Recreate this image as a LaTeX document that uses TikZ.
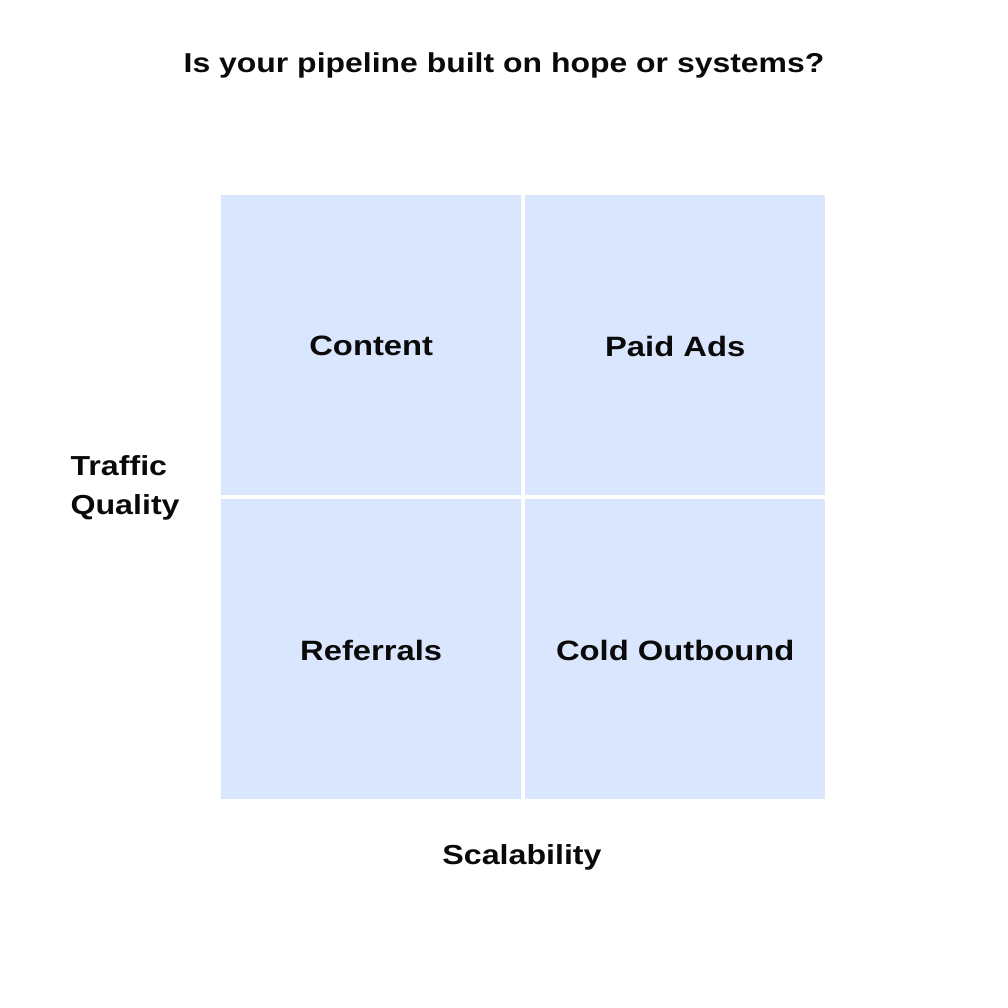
\documentclass[tikz,border=0pt]{standalone}
\usepackage{fontspec}
\setmainfont{Liberation Sans}
\newfontfamily\widesans[FakeStretch=1.17]{Liberation Sans}
\definecolor{quad}{RGB}{218,230,253}
\definecolor{ink}{RGB}{10,10,10}
\begin{document}
\begin{tikzpicture}[x=1pt,y=-1pt,
  quadbox/.style={fill=quad,draw=none,minimum width=300pt,minimum height=300pt,inner sep=0pt,anchor=north west},
  qlabel/.style={font=\widesans\fontsize{28}{32}\selectfont\bfseries,text=ink},
  axlabel/.style={font=\widesans\fontsize{27.5}{39}\selectfont\bfseries,text=ink},
  titlestyle/.style={font=\widesans\fontsize{27.3}{32}\selectfont\bfseries,text=ink}]
\useasboundingbox[fill=white] (0,0) rectangle (1008,1008);
\node[quadbox] (q1) at (221,195) {};
\node[quadbox] (q2) at (525,195) {};
\node[quadbox] (q3) at (221,499) {};
\node[quadbox] (q4) at (525,499) {};
\node[qlabel] (l1) at (q1.center) [yshift=-1pt] {Content};
\node[qlabel] (l2) at (q2.center) [yshift=-1pt] {Paid Ads};
\node[qlabel] (l3) at (q3.center) [yshift=-1pt] {Referrals};
\node[qlabel] (l4) at (q4.center) [yshift=-1pt] {Cold Outbound};
\node[titlestyle] (title) at (504,65) {Is your pipeline built on hope or systems?};
\node[axlabel,anchor=west,align=left] (ylab) at (67,488) {Traffic\\Quality};
\node[axlabel] (xlab) at (522,857) {Scalability};
\end{tikzpicture}
\end{document}
